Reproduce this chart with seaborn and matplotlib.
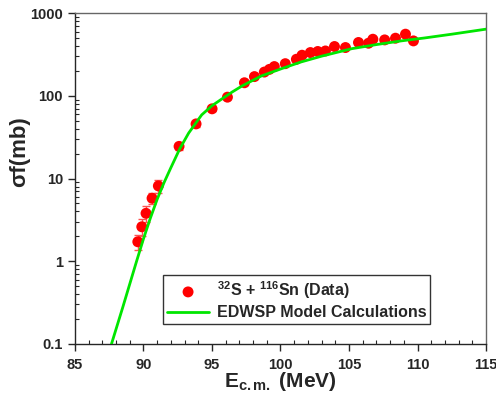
import numpy as np
import pandas as pd
import seaborn as sns
import matplotlib.pyplot as plt

sns.set_style('ticks')
plt.rcParams['font.family'] = ['Liberation Sans', 'DejaVu Sans']
plt.rcParams['font.weight'] = 'bold'
plt.rcParams['mathtext.fontset'] = 'custom'
plt.rcParams['mathtext.rm'] = 'Liberation Sans:bold'
plt.rcParams['mathtext.bf'] = 'Liberation Sans:bold'
plt.rcParams['mathtext.it'] = 'Liberation Sans:bold'

# measured fusion cross sections (32S + 116Sn)
e_data = [89.59, 89.88, 90.19, 90.63, 91.09, 92.60, 93.84, 95.01, 96.13, 97.37,
          98.10, 98.82, 99.19, 99.55, 100.35, 101.16, 101.57, 102.18, 102.72, 103.28,
          103.94, 104.74, 105.69, 106.42, 106.74, 107.60, 108.39, 109.12, 109.70]
sig_data = [1.72, 2.61, 3.8, 5.78, 8.15, 24.5, 45.8, 69.7, 96.4, 144,
            171, 194, 209, 226, 245, 277, 310, 334, 344, 349,
            395, 384, 442, 433, 484, 475, 498, 557, 462]
sig_err = [0.35, 0.6, 0.8, 0.9, 1.4, 2.5, 4.0, 5.0, 6.0, 8.0,
           9, 10, 10, 11, 12, 13, 14, 15, 15, 16,
           17, 17, 18, 18, 19, 19, 20, 21, 20]

# EDWSP model curve
e_calc = [87.67, 88.5, 89.5, 90.0, 90.5, 91.0, 91.5, 92.0, 92.65, 93.3,
          94.25, 95.0, 95.7, 96.5, 97.2, 98.6, 100.1, 101.5, 103.0, 105.2,
          107.0, 108.8, 110.5, 112.5, 115.0]
sig_calc = [0.1, 0.28, 1.0, 1.86, 3.3, 5.6, 8.9, 13.5, 22.9, 35.5,
            58.9, 75.9, 91.2, 112, 132, 174, 214, 257, 302, 372,
            417, 462, 501, 557, 641]

data = pd.DataFrame({'E': e_data, 'sigma': sig_data, 'err': sig_err})
calc = pd.DataFrame({'E': e_calc, 'sigma': sig_calc})

fig = plt.figure(figsize=(4.96, 3.99), dpi=100)
ax = fig.add_axes([0.151, 0.138, 0.829, 0.829])

ax.errorbar(data['E'], data['sigma'], yerr=data['err'], fmt='none',
            ecolor='#ff5050', elinewidth=1, capsize=3, zorder=2)
sns.scatterplot(data=data, x='E', y='sigma', color='red', s=62,
                edgecolor='none', ax=ax, zorder=3,
                label=r'$^{32}$S + $^{116}$Sn (Data)')
sns.lineplot(data=calc, x='E', y='sigma', color='#00e600', lw=2,
             ax=ax, zorder=4, label='EDWSP Model Calculations')

ax.set_yscale('log')
ax.set_xlim(85, 115)
ax.set_ylim(0.1, 1000)
ax.set_xticks([85, 90, 95, 100, 105, 110, 115])
ax.set_xticks(np.arange(85, 116, 1), minor=True)
ax.set_yticks([0.1, 1, 10, 100, 1000])
ax.set_yticklabels(['0.1', '1', '10', '100', '1000'])
ax.tick_params(which='major', direction='out', length=5, width=1, labelsize=10.5)
ax.tick_params(axis='x', which='major', pad=5)
ax.tick_params(which='minor', direction='in', length=3, width=0.8)
for s in ['top', 'right']:
    ax.spines[s].set_color('#666666')
for s in ax.spines.values():
    s.set_linewidth(1)

ax.set_xlabel(r'E$_{\mathbf{c.m.}}$ (MeV)', fontsize=15, fontweight='bold')
ax.set_ylabel(r'σf(mb)', fontsize=16, fontweight='bold')
ax.xaxis.set_label_coords(0.5, -0.08)
ax.yaxis.set_label_coords(-0.11, 0.58)

leg = ax.legend(loc='lower left', bbox_to_anchor=(0.215, 0.06), fontsize=11.5,
                frameon=True, fancybox=False, edgecolor='black',
                handlelength=2.6, handletextpad=0.5, borderpad=0.25,
                labelspacing=0.25, borderaxespad=0)
leg.get_frame().set_linewidth(1)
for t in leg.get_texts():
    t.set_fontweight('bold')

plt.savefig('out.png', dpi=100)
